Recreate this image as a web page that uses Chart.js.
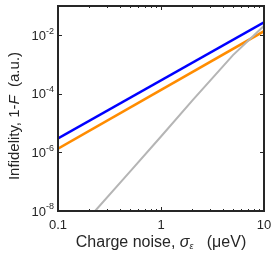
<!DOCTYPE html>
<html>
<head>
<meta charset="utf-8">
<script src="https://cdn.jsdelivr.net/npm/chart.js@4"></script>
<style>
  html, body { margin: 0; padding: 0; background: #fff; }
  #wrap { width: 277px; height: 260px; }
</style>
</head>
<body>
<div id="wrap"><canvas id="chart" width="277" height="260"></canvas></div>
<script>
// values (log-log axes)
const noiseBlue = [0.1, 10];
const infidBlue = [3.0e-6, 2.75e-2];
const noiseOrange = [0.1, 10];
const infidOrange = [1.35e-6, 1.38e-2];
const noiseGray = [0.229, 0.5, 1, 2.04, 5, 10];
const infidGray = [1e-8, 2.2e-7, 3.5e-6, 6.2e-5, 2.1e-3, 2.1e-2];

const xTickValues = [0.1, 1, 10];
const xTickLabels = ["0.1", "1", "10"];
const xMinorValues = [0.2, 0.3, 0.4, 0.5, 0.6, 0.7, 0.8, 0.9, 2, 3, 4, 5, 6, 7, 8, 9];
const yTickExponents = [-8, -6, -4, -2];

const FONT = '"Liberation Sans", Arial, sans-serif';
const AXIS = "#262626";

function pts(xs, ys) {
  return xs.map((x, i) => ({ x: x, y: ys[i] }));
}

// draw a run of text pieces with different fonts, centred on (cx, cy)
function drawPieces(ctx, pieces, cx, cy) {
  let total = 0;
  pieces.forEach((p) => {
    ctx.font = p.font;
    total += ctx.measureText(p.text).width;
  });
  let x = cx - total / 2;
  pieces.forEach((p) => {
    ctx.font = p.font;
    ctx.fillText(p.text, x, cy + (p.dy || 0));
    x += ctx.measureText(p.text).width;
  });
}

const framePlugin = {
  id: "frame",
  afterDraw(chart) {
    const ctx = chart.ctx;
    const a = chart.chartArea;
    const xs = chart.scales.x;
    const ys = chart.scales.y;
    ctx.save();
    ctx.strokeStyle = AXIS;
    ctx.fillStyle = AXIS;

    // ticks pointing inward
    ctx.lineWidth = 1;
    ctx.beginPath();
    xTickValues.forEach((v) => {
      const px = Math.round(xs.getPixelForValue(v)) + 0.5;
      ctx.moveTo(px, a.bottom); ctx.lineTo(px, a.bottom - 4);
      ctx.moveTo(px, a.top); ctx.lineTo(px, a.top + 4);
    });
    xMinorValues.forEach((v) => {
      const px = Math.round(xs.getPixelForValue(v)) + 0.5;
      ctx.moveTo(px, a.bottom); ctx.lineTo(px, a.bottom - 2);
      ctx.moveTo(px, a.top); ctx.lineTo(px, a.top + 2);
    });
    yTickExponents.forEach((e) => {
      const py = Math.round(ys.getPixelForValue(Math.pow(10, e))) + 0.5;
      ctx.moveTo(a.left, py); ctx.lineTo(a.left + 4, py);
      ctx.moveTo(a.right, py); ctx.lineTo(a.right - 4, py);
    });
    ctx.stroke();

    // box
    ctx.lineWidth = 2;
    ctx.strokeRect(a.left, a.top, a.right - a.left, a.bottom - a.top);

    // x tick labels
    ctx.textBaseline = "middle";
    ctx.textAlign = "center";
    ctx.font = "13px " + FONT;
    xTickValues.forEach((v, i) => {
      ctx.fillText(xTickLabels[i], xs.getPixelForValue(v), a.bottom + 14);
    });

    // y tick labels 10^e
    ctx.textAlign = "left";
    yTickExponents.forEach((e) => {
      const py = ys.getPixelForValue(Math.pow(10, e));
      ctx.font = "13px " + FONT;
      const wBase = ctx.measureText("10").width;
      ctx.font = "9px " + FONT;
      const wExp = ctx.measureText(String(e)).width;
      const x0 = a.left - 4 - wBase - wExp;
      ctx.font = "13px " + FONT;
      ctx.fillText("10", x0, py + 1);
      ctx.font = "9px " + FONT;
      ctx.fillText(String(e), x0 + wBase, py - 4);
    });

    // x axis title
    ctx.textAlign = "left";
    drawPieces(ctx, [
      { text: "Charge noise, ", font: "16px " + FONT },
      { text: "\u03c3", font: "italic 16px " + FONT },
      { text: "\u03b5", font: "italic 9px " + FONT, dy: 3 },
      { text: "   (\u03bceV)", font: "16px " + FONT },
    ], (a.left + a.right) / 2, 243);

    // y axis title
    ctx.translate(15, 116);
    ctx.rotate(-Math.PI / 2);
    drawPieces(ctx, [
      { text: "Infidelity, 1-", font: "15px " + FONT },
      { text: "F", font: "italic 15px " + FONT },
      { text: "  (a.u.)", font: "15px " + FONT },
    ], 0, 0);
    ctx.restore();
  },
};

new Chart(document.getElementById("chart"), {
  type: "scatter",
  data: {
    datasets: [
      {
        data: pts(noiseGray, infidGray),
        showLine: true,
        borderColor: "#b5b5b5",
        borderWidth: 2,
        pointRadius: 0,
      },
      {
        data: pts(noiseOrange, infidOrange),
        showLine: true,
        borderColor: "#ff8c00",
        borderWidth: 2.5,
        pointRadius: 0,
      },
      {
        data: pts(noiseBlue, infidBlue),
        showLine: true,
        borderColor: "#0000ff",
        borderWidth: 2.5,
        pointRadius: 0,
      },
    ],
  },
  options: {
    responsive: false,
    animation: false,
    events: [],
    layout: { padding: { top: 6, right: 13, left: 0, bottom: 0 } },
    plugins: {
      legend: { display: false },
      tooltip: { enabled: false },
    },
    scales: {
      x: {
        type: "logarithmic",
        min: 0.1,
        max: 10,
        grid: { display: false, drawTicks: false },
        border: { display: false },
        ticks: { display: false },
        afterFit: (s) => { s.height = 49; },
      },
      y: {
        type: "logarithmic",
        min: 1e-8,
        max: 1e-1,
        grid: { display: false, drawTicks: false },
        border: { display: false },
        ticks: { display: false },
        afterFit: (s) => { s.width = 58; },
      },
    },
  },
  plugins: [framePlugin],
});
</script>
</body>
</html>
